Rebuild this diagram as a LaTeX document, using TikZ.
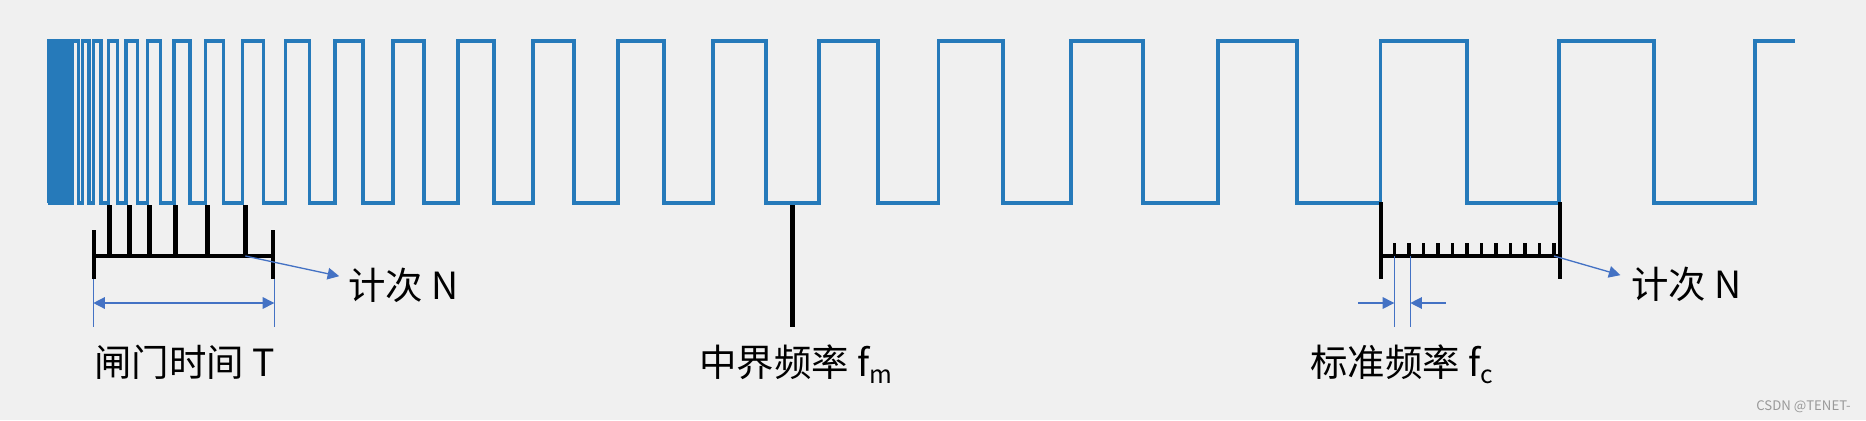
\documentclass[tikz,border=0pt]{standalone}
\usepackage{fontspec}
\setmainfont{Noto Sans CJK SC}
\usepackage{tikz}
\usetikzlibrary{arrows.meta}
\definecolor{sigblue}{RGB}{38,122,186}
\definecolor{dimblue}{RGB}{68,114,196}
\definecolor{bggray}{RGB}{240,240,240}
\tikzstyle{signal} = [draw=sigblue, line width=2pt]
\tikzstyle{bar} = [draw=black, line width=2.6pt]
\tikzstyle{dimline} = [draw=dimblue, line width=0.75pt]
\tikzstyle{pointer} = [dimline, -{Triangle[length=6.6pt,width=6.6pt]}]
\tikzstyle{dim} = [dimline, {Triangle[length=6.6pt,width=6.6pt]}-{Triangle[length=6.6pt,width=6.6pt]}]
\tikzstyle{lbl} = [inner sep=0pt, font=\fontsize{21.3}{25}\selectfont]
\newcommand{\lowidx}[1]{\raisebox{-4.5pt}{\fontsize{14}{14}\selectfont #1}}

\begin{document}
\begin{tikzpicture}[x=0.02cm, y=-0.02cm]
		%\draw[help lines] (0,0) grid (1866,420);
		\fill[bggray] (0,0) rectangle (1866,420);
		\useasboundingbox (0,0) rectangle (1866,420);
		\draw[signal] (49,203) \foreach \r/\f in {49/50.2, 51.5/52.8, 54/55.3, 56.5/57.8, 59/60.4, 61.8/63.3, 64.8/66.4, 68/69.8,
			72.7/78.3, 82.3/89, 93.3/101, 108.3/117.3, 126/137.3, 147.7/160.7, 174/190, 205.3/223.3, 242.3/263.3,
			285.7/309.3, 335/363, 393/424, 458/494, 533/574, 618/664, 713/766, 819/878, 938.5/1003,
			1071/1143, 1218/1297, 1380.6/1467, 1559/1654}
			{ -- (\r,203) -- (\r,41) -- (\f,41) -- (\f,203) } -- (1755,203) -- (1755,41) -- (1795,41);
		% gate time
		\coordinate (g1) at (94,256);
		\coordinate (g2) at (273,256);
		\coordinate (t1) at (245.3,256);
		\draw[bar] (94,230) -- (94,279);
		\draw[bar] (273,230) -- (273,279);
		\draw[bar] (g1) -- (g2);
		\foreach \x in {109.3,129.3,149.3,175.3,207.3,245.3}
			\draw[bar] (\x,205) -- (\x,256);
		\node[lbl, anchor=base west] (cnt1) at (348,299) {计次 N};
		\draw[pointer] (t1) -- ([xshift=-5pt,yshift=13pt]cnt1.base west);
		\draw[dimline] (93.3,279) -- (93.3,327);
		\draw[dimline] (274.3,279) -- (274.3,327);
		\draw[dim] (93.3,303) -- (274.3,303);
		\node[lbl, anchor=base west] (gate) at (94,376) {闸门时间 T};
		% middle
		\node[lbl, anchor=base west] (fm) at (699,376) {中界频率 f\lowidx{m}};
		\draw[bar] (792.7,205) -- (792.7,327);
		% standard
		\coordinate (t2) at (1554,256);
		\draw[bar] (1381,202) -- (1381,279);
		\draw[bar] (1560,202) -- (1560,279);
		\draw[bar] (1381,256) -- (1560,256);
		\foreach \k in {0,...,11}
			\draw[bar, line width=2pt] (1394.3+14.52*\k,243) -- (1394.3+14.52*\k,256);
		\node[lbl, anchor=base west] (cnt2) at (1631,298) {计次 N};
		\draw[pointer] (t2) -- ([xshift=-6pt,yshift=13pt]cnt2.base west);
		\draw[dimline] (1394.3,256) -- (1394.3,327);
		\draw[dimline] (1410.3,256) -- (1410.3,327);
		\draw[pointer] (1358,303) -- (1394.3,303);
		\draw[pointer] (1445.7,303) -- (1410.3,303);
		\node[lbl, anchor=base west] (fc) at (1310,376) {标准频率 f\lowidx{c}};
		\node[anchor=base east, inner sep=0pt, text=gray!80, font=\fontsize{7.5}{9}\selectfont] (wm) at (1851,410) {CSDN @TENET-};
\end{tikzpicture}
\end{document}
